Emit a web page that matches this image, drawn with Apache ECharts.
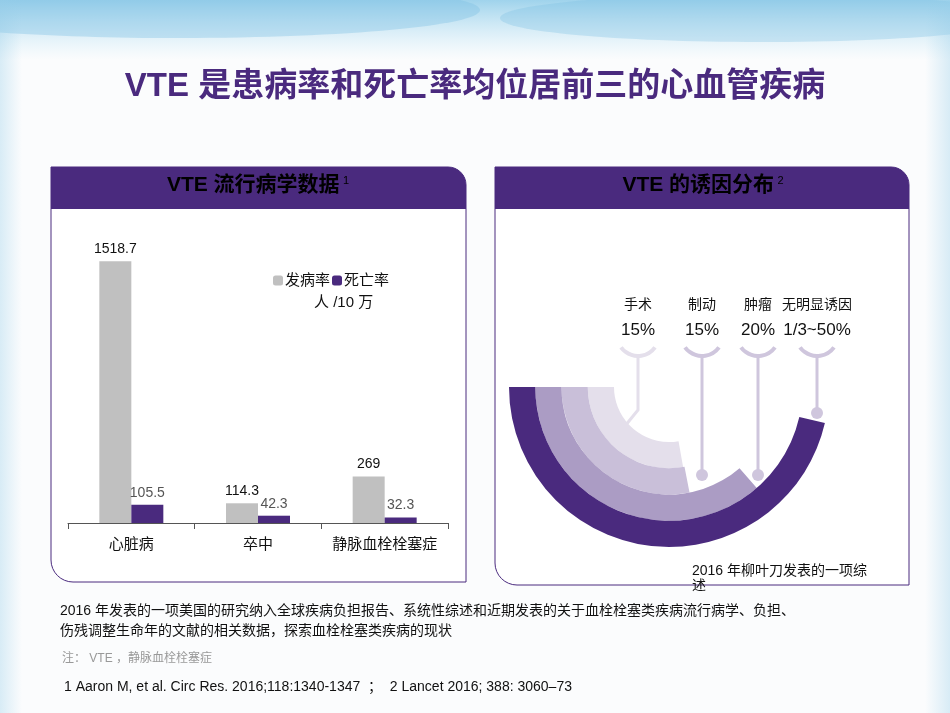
<!DOCTYPE html>
<html lang="zh-CN">
<head>
<meta charset="UTF-8">
<title>VTE</title>
<script src="https://cdn.jsdelivr.net/npm/echarts@6/dist/echarts.min.js"></script>
<style>html,body{margin:0;padding:0}#main{width:950px;height:713px}</style>
</head>
<body>
<div id="main"></div>
<script>
// 左图数据
var categories = ['心脏病', '卒中', '静脉血栓栓塞症'];
var incidence = [1518.7, 114.3, 269];
var mortality = [105.5, 42.3, 32.3];
// 右图：诱因（环形跨度，单位为角度）
var causes = ['手术', '制动', '肿瘤', '无明显诱因'];
var causeLabels = ['15%', '15%', '20%', '1/3~50%'];
var ringSpan = [100, 101, 131, 167];   // 由内到外
var ringColors = ['#e4dfeb', '#c9bfd9', '#ab9cc4', '#4a2a7e'];

var font = '"Liberation Sans", "Noto Sans CJK SC", sans-serif';
var purple = '#4a2a7e';
var myChart = echarts.init(document.getElementById('main'));

var headRich = {
    h: {font: 'bold 21px ' + font, color: '#fff'},
    s: {font: '11px ' + font, color: '#fff', verticalAlign: 'top', padding: [0, 0, 10, 0]}
};

var graphics = [
    // 背景
    {type: 'rect', z: -10, shape: {x: 0, y: 0, width: 950, height: 713}, style: {fill: '#fbfcfd'}},
    {type: 'rect', z: -9, shape: {x: 0, y: 0, width: 950, height: 60},
        style: {fill: new echarts.graphic.LinearGradient(0, 0, 0, 1, [{offset: 0, color: '#9fd3ec'}, {offset: 1, color: 'rgba(200,232,246,0)'}])}},
    {type: 'ellipse', z: -9, shape: {cx: 180, cy: 10, rx: 300, ry: 28}, style: {fill: 'rgba(120,190,225,0.35)'}},
    {type: 'ellipse', z: -9, shape: {cx: 760, cy: 18, rx: 260, ry: 24}, style: {fill: 'rgba(120,190,225,0.3)'}},
    {type: 'rect', z: -9, shape: {x: 0, y: 0, width: 22, height: 713},
        style: {fill: new echarts.graphic.LinearGradient(0, 0, 1, 0, [{offset: 0, color: 'rgba(150,205,232,0.35)'}, {offset: 1, color: 'rgba(150,205,232,0)'}])}},
    {type: 'rect', z: -9, shape: {x: 925, y: 0, width: 25, height: 713},
        style: {fill: new echarts.graphic.LinearGradient(1, 0, 0, 0, [{offset: 0, color: 'rgba(150,205,232,0.35)'}, {offset: 1, color: 'rgba(150,205,232,0)'}])}},
    // 标题
    {type: 'text', left: 'center', top: 70, style: {text: 'VTE 是患病率和死亡率均位居前三的心血管疾病', font: 'bold 33px ' + font, fill: purple}},
    // 左面板
    {type: 'rect', z: -5, shape: {x: 51, y: 167, width: 415, height: 415, r: [0, 18, 0, 22]}, style: {fill: '#fff', stroke: purple, lineWidth: 1}},
    {type: 'rect', z: -4, shape: {x: 51, y: 167, width: 415, height: 42, r: [0, 18, 0, 0]}, style: {fill: purple}},
    {type: 'text', x: 258, y: 175, style: {text: '{h|VTE 流行病学数据} {s|1}', rich: headRich, align: 'center'}},
    // 右面板
    {type: 'rect', z: -5, shape: {x: 495, y: 167, width: 414, height: 418, r: [0, 18, 0, 22]}, style: {fill: '#fff', stroke: purple, lineWidth: 1}},
    {type: 'rect', z: -4, shape: {x: 495, y: 167, width: 414, height: 42, r: [0, 18, 0, 0]}, style: {fill: purple}},
    {type: 'text', x: 703, y: 175, style: {text: '{h|VTE 的诱因分布} {s|2}', rich: headRich, align: 'center'}},
    // 单位
    {type: 'text', left: 314, top: 295, style: {text: '人 /10 万', font: '15px ' + font, fill: '#111'}},
    // 右下注释
    {type: 'text', left: 692, top: 564, style: {text: '2016 年柳叶刀发表的一项综\n述', font: '14px ' + font, fill: '#111', lineHeight: 15}},
    // 底部文字
    {type: 'text', left: 60, top: 601, style: {text: '2016 年发表的一项美国的研究纳入全球疾病负担报告、系统性综述和近期发表的关于血栓栓塞类疾病流行病学、负担、\n伤残调整生命年的文献的相关数据，探索血栓栓塞类疾病的现状', font: '14px ' + font, fill: '#111', lineHeight: 20}},
    {type: 'text', left: 62, top: 653, style: {text: '注： VTE ，静脉血栓栓塞症', font: '12px ' + font, fill: '#999'}},
    {type: 'text', left: 64, top: 680, style: {text: '1 Aaron M, et al. Circ Res. 2016;118:1340-1347  ；  2 Lancet 2016; 388: 3060–73', font: '14px ' + font, fill: '#111'}}
];

// 诱因标注：文字、小弧、引线、圆点
var causeX = [638, 702, 758, 817];
var dotY = [null, 475, 475, 413];
var lineColor = ['#e4dfeb', '#cfc6dd', '#cfc6dd', '#cfc6dd'];
causes.forEach(function (c, i) {
    graphics.push({type: 'text', x: causeX[i], y: 298, style: {text: c, font: '14px ' + font, fill: '#111', align: 'center'}});
    graphics.push({type: 'text', x: causeX[i], y: 322, style: {text: causeLabels[i], font: '17px ' + font, fill: '#111', align: 'center'}});
    graphics.push({type: 'arc', shape: {cx: causeX[i], cy: 335, r: 21, startAngle: Math.PI * 0.2, endAngle: Math.PI * 0.8}, style: {stroke: lineColor[i], lineWidth: 4, fill: null}});
    if (i === 0) {
        graphics.push({type: 'polyline', shape: {points: [[causeX[i], 356], [causeX[i], 410], [625, 426]]}, style: {stroke: lineColor[i], lineWidth: 3}});
    } else {
        graphics.push({type: 'line', shape: {x1: causeX[i], y1: 356, x2: causeX[i], y2: dotY[i]}, style: {stroke: lineColor[i], lineWidth: 3}});
        graphics.push({type: 'circle', shape: {cx: causeX[i], cy: dotY[i], r: 6}, style: {fill: lineColor[i]}});
    }
});

var option = {
    animation: false,
    textStyle: {fontFamily: font},
    graphic: graphics,
    legend: {
        left: 268, top: 268, itemWidth: 10, itemHeight: 10, itemGap: 2,
        textStyle: {fontSize: 15, color: '#111', padding: [0, 0, 0, -3]},
        data: ['发病率', '死亡率']
    },
    grid: {left: 68, right: 502, top: 223, bottom: 190},
    xAxis: {
        type: 'category', data: categories,
        axisLine: {lineStyle: {color: '#555'}},
        axisTick: {show: true, length: 6, lineStyle: {color: '#555'}},
        axisLabel: {fontSize: 15, color: '#111', margin: 14, interval: 0}
    },
    yAxis: {type: 'value', min: 0, max: 1740, show: false, splitLine: {show: false}},
    polar: {center: [669, 387], radius: [55, 160]},
    angleAxis: {type: 'value', min: 0, max: 360, startAngle: 180, clockwise: false, show: false},
    radiusAxis: {type: 'category', data: ['a', 'b', 'c', 'd'], show: false},
    series: [
        {name: '发病率', type: 'bar', data: incidence, barWidth: 32, barGap: '0%', itemStyle: {color: '#c0c0c0'},
            label: {show: true, position: 'top', color: '#111', fontSize: 14}},
        {name: '死亡率', type: 'bar', data: mortality, barWidth: 32, itemStyle: {color: purple},
            label: {show: true, position: 'top', color: '#555', fontSize: 14}},
        {type: 'bar', coordinateSystem: 'polar', barCategoryGap: '0%', silent: true,
            data: ringSpan.map(function (v, i) { return {value: v, itemStyle: {color: ringColors[i]}}; })}
    ]
};
myChart.setOption(option);
</script>
</body>
</html>
